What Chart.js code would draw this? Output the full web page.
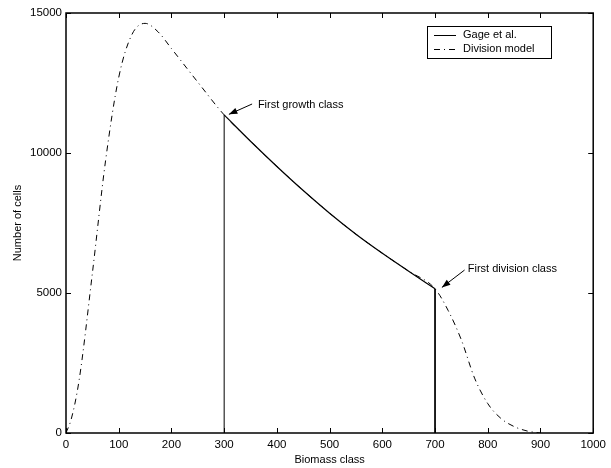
<!DOCTYPE html>
<html>
<head>
<meta charset="utf-8">
<script src="https://cdn.jsdelivr.net/npm/chart.js@4.4.0/dist/chart.umd.min.js"></script>
<style>
  html, body { margin: 0; padding: 0; background: #fff; }
  #wrap { width: 611px; height: 468px; }
</style>
</head>
<body>
<div id="wrap"><canvas id="cellsChart" width="611" height="468"></canvas></div>
<script>
// Division model curve (biomass class, number of cells)
const modelX = [0, 10, 25, 50, 75, 100, 125, 150, 175, 200, 250, 300, 350, 400, 450, 500, 550, 600, 650, 700, 725, 750, 775, 800, 825, 850, 875, 900];
const modelY = [0, 500, 1900, 5700, 9720, 12700, 14230, 14630, 14320, 13730, 12530, 11360, 10420, 9520, 8660, 7850, 7100, 6420, 5780, 5150, 4370, 3320, 1960, 1050, 520, 230, 70, 0];

// Gage et al. (between first growth class and first division class)
const gageX = [300, 350, 400, 450, 500, 550, 600, 650, 700];
const gageY = [11360, 10420, 9520, 8660, 7850, 7100, 6420, 5780, 5150];

const xTicks = [0, 100, 200, 300, 400, 500, 600, 700, 800, 900, 1000];
const yTicks = [0, 5000, 10000, 15000];

// annotations: text position and arrow (tail -> head), in data units
const noteText = ['First growth class', 'First division class'];
const noteAt = [[364, 11710], [762, 5860]];
const noteTail = [[353, 11750], [756, 5820]];
const noteHead = [[309, 11380], [713, 5200]];

const legendLabels = ['Gage et al.', 'Division model'];

const FONT = '"Liberation Sans", Arial, Helvetica, sans-serif';
const dashDot = [6, 4, 1, 4];

function pts(xs, ys) {
    return xs.map((x, i) => ({ x: x, y: ys[i] }));
}

// vertical edges of the Gage curve
const last = gageX.length - 1;
const gageEdges = [
    { x: gageX[0], y: 0 }, { x: gageX[0], y: gageY[0] }, { x: gageX[0], y: null },
    { x: gageX[last], y: gageY[last] }, { x: gageX[last], y: 0 }
];

const extras = {
    id: 'extras',
    afterDraw(chart) {
        const ctx = chart.ctx;
        const xs = chart.scales.x, ys = chart.scales.y;
        const a = chart.chartArea;
        ctx.save();

        // frame
        ctx.strokeStyle = '#000';
        ctx.lineWidth = 1.5;
        ctx.strokeRect(a.left, a.top, a.right - a.left, a.bottom - a.top);

        // inward ticks
        ctx.lineWidth = 1;
        ctx.beginPath();
        xTicks.forEach(v => {
            const px = Math.round(xs.getPixelForValue(v)) + 0.5;
            ctx.moveTo(px, a.bottom); ctx.lineTo(px, a.bottom - 5);
            ctx.moveTo(px, a.top); ctx.lineTo(px, a.top + 5);
        });
        yTicks.forEach(v => {
            const py = Math.round(ys.getPixelForValue(v)) + 0.5;
            ctx.moveTo(a.left, py); ctx.lineTo(a.left + 5, py);
            ctx.moveTo(a.right, py); ctx.lineTo(a.right - 5, py);
        });
        ctx.stroke();

        // axis titles
        ctx.fillStyle = '#000';
        ctx.font = '11px ' + FONT;
        ctx.textAlign = 'center';
        ctx.textBaseline = 'middle';
        ctx.fillText('Biomass class', (a.left + a.right) / 2, 460);
        ctx.save();
        ctx.translate(18, (a.top + a.bottom) / 2);
        ctx.rotate(-Math.PI / 2);
        ctx.fillText('Number of cells', 0, 0);
        ctx.restore();

        // annotations with arrows
        ctx.textAlign = 'left';
        noteText.forEach((t, i) => {
            const tx = xs.getPixelForValue(noteAt[i][0]), ty = ys.getPixelForValue(noteAt[i][1]);
            ctx.fillText(t, tx, ty);
            const x0 = xs.getPixelForValue(noteTail[i][0]), y0 = ys.getPixelForValue(noteTail[i][1]);
            const x1 = xs.getPixelForValue(noteHead[i][0]), y1 = ys.getPixelForValue(noteHead[i][1]);
            const ang = Math.atan2(y1 - y0, x1 - x0);
            ctx.beginPath();
            ctx.moveTo(x0, y0); ctx.lineTo(x1, y1);
            ctx.stroke();
            ctx.beginPath();
            ctx.moveTo(x1, y1);
            ctx.lineTo(x1 - 9 * Math.cos(ang - 0.35), y1 - 9 * Math.sin(ang - 0.35));
            ctx.lineTo(x1 - 9 * Math.cos(ang + 0.35), y1 - 9 * Math.sin(ang + 0.35));
            ctx.closePath();
            ctx.fill();
        });

        // legend box
        const lx = 427, ly = 26, lw = 124, lh = 32;
        ctx.fillStyle = '#fff';
        ctx.fillRect(lx, ly, lw, lh);
        ctx.lineWidth = 1;
        ctx.strokeRect(lx + 0.5, ly + 0.5, lw, lh);
        ctx.fillStyle = '#000';
        legendLabels.forEach((lab, i) => {
            const yy = ly + 9 + i * 14;
            ctx.beginPath();
            ctx.setLineDash(i === 0 ? [] : dashDot);
            ctx.moveTo(lx + 7, yy + 0.5); ctx.lineTo(lx + 29, yy + 0.5);
            ctx.stroke();
            ctx.setLineDash([]);
            ctx.fillText(lab, lx + 36, yy);
        });

        ctx.restore();
    }
};

document.addEventListener('DOMContentLoaded', function () {
    const ctx = document.getElementById('cellsChart').getContext('2d');
    new Chart(ctx, {
        type: 'scatter',
        data: {
            datasets: [{
                label: legendLabels[1],
                data: pts(modelX, modelY),
                showLine: true,
                borderColor: '#000',
                borderWidth: 1,
                borderDash: dashDot,
                pointRadius: 0,
                cubicInterpolationMode: 'monotone'
            }, {
                label: legendLabels[0],
                data: pts(gageX, gageY),
                showLine: true,
                borderColor: '#000',
                borderWidth: 1.2,
                pointRadius: 0,
                cubicInterpolationMode: 'monotone'
            }, {
                label: 'edges',
                data: gageEdges,
                showLine: true,
                spanGaps: false,
                borderColor: '#000',
                borderWidth: 1,
                pointRadius: 0
            }]
        },
        options: {
            responsive: false,
            animation: false,
            layout: { padding: { left: 0, top: 13, right: 15, bottom: 0 } },
            plugins: {
                legend: { display: false },
                tooltip: { enabled: false }
            },
            scales: {
                x: {
                    type: 'linear',
                    min: 0, max: 1000,
                    afterFit: s => { s.height = 35; },
                    afterBuildTicks: s => { s.ticks = xTicks.map(v => ({ value: v })); },
                    grid: { display: false, drawTicks: false },
                    border: { display: false },
                    ticks: { color: '#000', padding: 5, maxRotation: 0, callback: v => String(v), font: { family: FONT, size: 11.5 } }
                },
                y: {
                    type: 'linear',
                    min: 0, max: 15000,
                    afterFit: s => { s.width = 66; },
                    afterBuildTicks: s => { s.ticks = yTicks.map(v => ({ value: v })); },
                    grid: { display: false, drawTicks: false },
                    border: { display: false },
                    ticks: { color: '#000', padding: 4, callback: v => String(v), font: { family: FONT, size: 11.5 } }
                }
            }
        },
        plugins: [extras]
    });
});
</script>
</body>
</html>
